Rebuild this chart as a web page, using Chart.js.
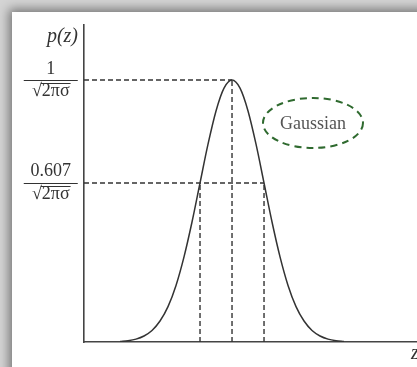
<!DOCTYPE html>
<html>
<head>
<meta charset="utf-8">
<script src="https://cdn.jsdelivr.net/npm/chart.js@4"></script>
<style>
  html, body { margin: 0; padding: 0; width: 417px; height: 367px; overflow: hidden; background: #d4d4d4; }
  #card { position: absolute; left: 12px; top: 12px; width: 430px; height: 380px; background: #fff;
          box-shadow: 0 0 10px 3px rgba(0,0,0,0.45); }
  #wrap { position: absolute; left: 0; top: 0; width: 405px; height: 355px; }
</style>
</head>
<body>
<div id="card"><div id="wrap"><canvas id="c"></canvas></div></div>
<script>
// z in units of sigma, p(z) relative to the peak value 1/(sqrt(2*pi)*sigma)
const zValues = [-3.5, -3.25, -3, -2.75, -2.5, -2.25, -2, -1.75, -1.5, -1.25, -1, -0.75, -0.5, -0.25, 0,
                 0.25, 0.5, 0.75, 1, 1.25, 1.5, 1.75, 2, 2.25, 2.5, 2.75, 3, 3.25, 3.5];
const pValues = [0.002, 0.005, 0.011, 0.023, 0.044, 0.080, 0.135, 0.216, 0.325, 0.458, 0.607, 0.755, 0.882, 0.969, 1.000,
                 0.969, 0.882, 0.755, 0.607, 0.458, 0.325, 0.216, 0.135, 0.080, 0.044, 0.023, 0.011, 0.005, 0.002];
const peakLevel = 1;
const halfLevel = 0.607;
const inflectionZ = [-1, 1];
const tickValues = [peakLevel, halfLevel];
const tickNumerators = ['1', '0.607'];
const tickDenominator = '√2πσ';
const xRange = [-4.625, 5.78];
const yRange = [0, 1.21];
const legendText = 'Gaussian';
const legendAt = { z: 2.53, p: 0.836 };

const SERIF = '"Liberation Serif", "DejaVu Serif", serif';
const INK = '#333';
const dashed = { borderColor: INK, borderWidth: 1.4, borderDash: [5, 3], pointRadius: 0, fill: false };

const curve = zValues.map((z, i) => ({ x: z, y: pValues[i] }));

const datasets = [
  { data: curve, borderColor: INK, borderWidth: 1.5, pointRadius: 0, cubicInterpolationMode: 'monotone', fill: false },
  Object.assign({ data: [{ x: xRange[0], y: peakLevel }, { x: 0, y: peakLevel }] }, dashed),
  Object.assign({ data: [{ x: 0, y: 0 }, { x: 0, y: peakLevel }] }, dashed),
  Object.assign({ data: [{ x: xRange[0], y: halfLevel }, { x: inflectionZ[1], y: halfLevel }] }, dashed),
  Object.assign({ data: [{ x: inflectionZ[0], y: 0 }, { x: inflectionZ[0], y: halfLevel }] }, dashed),
  Object.assign({ data: [{ x: inflectionZ[1], y: 0 }, { x: inflectionZ[1], y: halfLevel }] }, dashed)
];

const tickFont = { family: SERIF, size: 18, lineHeight: 1.25 };
const tickPadding = 13;
const yAxisWidth = 72;

// fraction bars, radical overbars, axis names and the legend ellipse
const decorations = {
  id: 'decorations',
  afterDraw(chart) {
    const ctx = chart.ctx;
    const ys = chart.scales.y, xs = chart.scales.x;
    const area = chart.chartArea;
    ctx.save();
    ctx.font = tickFont.size + 'px ' + SERIF;
    const widest = Math.max(ctx.measureText(tickDenominator).width,
                            ...tickNumerators.map(t => ctx.measureText(t).width));
    const cx = area.left - tickPadding - widest / 2;
    const denW = ctx.measureText(tickDenominator).width;
    const rootW = ctx.measureText('√').width;
    const lh = tickFont.size * tickFont.lineHeight;
    ctx.strokeStyle = INK;
    ctx.lineWidth = 1;
    tickValues.forEach(v => {
      const y = Math.round(ys.getPixelForValue(v)) + 0.5;
      ctx.beginPath();
      ctx.moveTo(cx - 27, y); ctx.lineTo(cx + 27, y);
      ctx.stroke();
      const oy = Math.round(y + lh / 2 - tickFont.size * 0.5) + 0.5;
      ctx.beginPath();
      ctx.moveTo(cx - denW / 2 + rootW - 1, oy); ctx.lineTo(cx + denW / 2 + 1, oy);
      ctx.stroke();
    });

    ctx.fillStyle = '#333';
    ctx.font = 'italic 20px ' + SERIF;
    ctx.textAlign = 'right';
    ctx.textBaseline = 'middle';
    ctx.fillText('p(z)', area.left - 6, area.top + 12);
    ctx.textAlign = 'left';
    ctx.fillText('z', area.right - 6, area.bottom + 12);

    const ex = xs.getPixelForValue(legendAt.z), ey = ys.getPixelForValue(legendAt.p);
    ctx.strokeStyle = '#2f6a2f';
    ctx.lineWidth = 2;
    ctx.setLineDash([7, 5]);
    ctx.beginPath();
    ctx.ellipse(ex, ey, 50, 25, 0, 0, Math.PI * 2);
    ctx.stroke();
    ctx.setLineDash([]);
    ctx.fillStyle = '#555';
    ctx.font = '18px ' + SERIF;
    ctx.textAlign = 'center';
    ctx.fillText(legendText, ex, ey + 1);
    ctx.restore();
  }
};

new Chart(document.getElementById('c'), {
  type: 'line',
  data: { datasets },
  options: {
    responsive: true,
    maintainAspectRatio: false,
    animation: false,
    layout: { padding: { top: 13, left: 0, right: 0, bottom: 0 } },
    plugins: { legend: { display: false }, tooltip: { enabled: false } },
    scales: {
      x: {
        type: 'linear', min: xRange[0], max: xRange[1],
        grid: { display: false, drawTicks: false },
        border: { display: true, color: '#444', width: 1.6 },
        ticks: { display: false },
        afterFit(s) { s.height = 25; s.paddingLeft = 0; s.paddingRight = 0; }
      },
      y: {
        type: 'linear', min: yRange[0], max: yRange[1],
        grid: { display: false, drawTicks: false },
        border: { display: true, color: '#444', width: 1.6 },
        afterBuildTicks(s) { s.ticks = tickValues.map(v => ({ value: v })); },
        afterFit(s) { s.width = yAxisWidth; s.paddingTop = 0; s.paddingBottom = 0; },
        ticks: {
          autoSkip: false,
          crossAlign: 'center',
          padding: tickPadding,
          color: '#333',
          font: tickFont,
          callback(v) {
            const i = tickValues.indexOf(v);
            return [tickNumerators[i], tickDenominator];
          }
        }
      }
    }
  },
  plugins: [decorations]
});
</script>
</body>
</html>
